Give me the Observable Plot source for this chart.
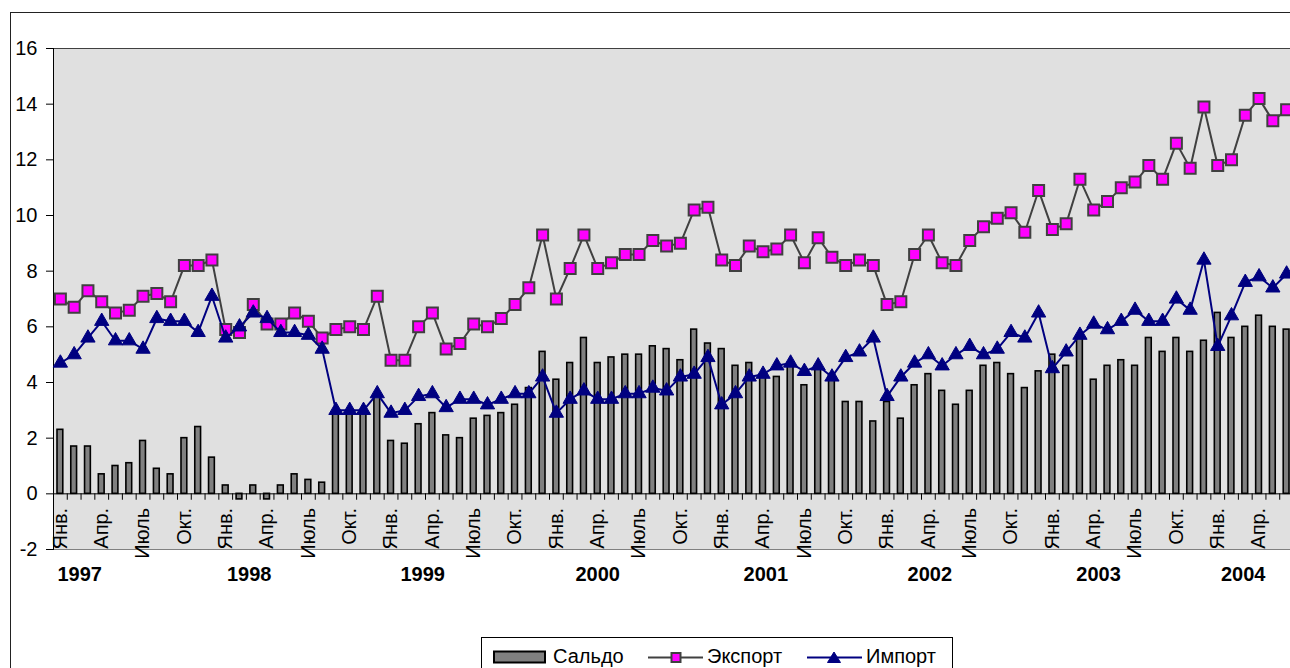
<!DOCTYPE html>
<html>
<head>
<meta charset="utf-8">
<script src="https://cdn.jsdelivr.net/npm/d3@7"></script>
<script src="https://cdn.jsdelivr.net/npm/@observablehq/plot@0.6"></script>
<style>
  html, body { margin: 0; padding: 0; background: #fff; overflow: hidden; }
  #page { position: relative; width: 1290px; height: 668px; overflow: hidden;
          font-family: "Liberation Sans", Arial, sans-serif; }
  #frame { position: absolute; left: 10px; top: 12px; width: 1400px; height: 800px;
           border: 1px solid #222; box-sizing: border-box; }
  #chart { position: absolute; left: 0; top: 0; }
  #legend { position: absolute; left: 481px; top: 637px; }
</style>
</head>
<body>
<div id="page">
  <div id="frame"></div>
  <div id="chart"></div>
  <div id="legend"></div>
</div>
<script>
// Monthly trade figures, January 1997 – June 2004
const years = [1997, 1998, 1999, 2000, 2001, 2002, 2003, 2004];
const quarterLabels = ["Янв.", "Апр.", "Июль", "Окт."];
const seriesNames = ["Сальдо", "Экспорт", "Импорт"];

const exportValues = [
  7.0, 6.7, 7.3, 6.9, 6.5, 6.6, 7.1, 7.2, 6.9, 8.2, 8.2, 8.4,
  5.9, 5.8, 6.8, 6.1, 6.1, 6.5, 6.2, 5.6, 5.9, 6.0, 5.9, 7.1,
  4.8, 4.8, 6.0, 6.5, 5.2, 5.4, 6.1, 6.0, 6.3, 6.8, 7.4, 9.3,
  7.0, 8.1, 9.3, 8.1, 8.3, 8.6, 8.6, 9.1, 8.9, 9.0, 10.2, 10.3,
  8.4, 8.2, 8.9, 8.7, 8.8, 9.3, 8.3, 9.2, 8.5, 8.2, 8.4, 8.2,
  6.8, 6.9, 8.6, 9.3, 8.3, 8.2, 9.1, 9.6, 9.9, 10.1, 9.4, 10.9,
  9.5, 9.7, 11.3, 10.2, 10.5, 11.0, 11.2, 11.8, 11.3, 12.6, 11.7, 13.9,
  11.8, 12.0, 13.6, 14.2, 13.4, 13.8
];

const importValues = [
  4.7, 5.0, 5.6, 6.2, 5.5, 5.5, 5.2, 6.3, 6.2, 6.2, 5.8, 7.1,
  5.6, 6.0, 6.5, 6.3, 5.8, 5.8, 5.7, 5.2, 3.0, 3.0, 3.0, 3.6,
  2.9, 3.0, 3.5, 3.6, 3.1, 3.4, 3.4, 3.2, 3.4, 3.6, 3.6, 4.2,
  2.9, 3.4, 3.7, 3.4, 3.4, 3.6, 3.6, 3.8, 3.7, 4.2, 4.3, 4.9,
  3.2, 3.6, 4.2, 4.3, 4.6, 4.7, 4.4, 4.6, 4.2, 4.9, 5.1, 5.6,
  3.5, 4.2, 4.7, 5.0, 4.6, 5.0, 5.3, 5.0, 5.2, 5.8, 5.6, 6.5,
  4.5, 5.1, 5.7, 6.1, 5.9, 6.2, 6.6, 6.2, 6.2, 7.0, 6.6, 8.4,
  5.3, 6.4, 7.6, 7.8, 7.4, 7.9
];

const saldoValues = [
  2.3, 1.7, 1.7, 0.7, 1.0, 1.1, 1.9, 0.9, 0.7, 2.0, 2.4, 1.3,
  0.3, -0.2, 0.3, -0.2, 0.3, 0.7, 0.5, 0.4, 2.9, 3.0, 2.9, 3.5,
  1.9, 1.8, 2.5, 2.9, 2.1, 2.0, 2.7, 2.8, 2.9, 3.2, 3.8, 5.1,
  4.1, 4.7, 5.6, 4.7, 4.9, 5.0, 5.0, 5.3, 5.2, 4.8, 5.9, 5.4,
  5.2, 4.6, 4.7, 4.2, 4.2, 4.7, 3.9, 4.6, 4.3, 3.3, 3.3, 2.6,
  3.3, 2.7, 3.9, 4.3, 3.7, 3.2, 3.7, 4.6, 4.7, 4.3, 3.8, 4.4,
  5.0, 4.6, 5.6, 4.1, 4.6, 4.8, 4.6, 5.6, 5.1, 5.6, 5.1, 5.5,
  6.5, 5.6, 6.0, 6.4, 6.0, 5.9
];

const yTicks = [-2, 0, 2, 4, 6, 8, 10, 12, 14, 16];

// ---- derived tables ----
const rows = exportValues.map((v, i) => ({
  i, m: i % 12, exp: v, imp: importValues[i], sal: saldoValues[i]
}));
const quarters = rows.filter(d => d.m % 3 === 0)
  .map(d => ({ i: d.i, label: quarterLabels[d.m / 3] }));
const boundaries = d3.range(rows.length + 1).map(k => k - 0.5);
// year captions sit a little after each January, in month units
const yearShift = [1.4, 1.7, 2.3, 3.0, 3.2, 3.1, 3.35, 1.85];

const FONT = "Liberation Sans, Arial, sans-serif";
const EXPORT_FILL = "#ff00ff", EXPORT_LINE = "#404040";
const IMPORT_COLOR = "#000080";
const SALDO_FILL = "#808080";

const chart = Plot.plot({
  width: 1290,
  height: 668,
  marginLeft: 53,
  marginRight: -3,
  marginTop: 48,
  marginBottom: 119,
  style: { background: "transparent", fontFamily: FONT, fontSize: "20px", color: "#000" },
  x: { domain: [-0.5, rows.length - 0.5], axis: null },
  y: { domain: [-2, 16], axis: null },
  marks: [
    // plot area: grey fill, dark top edge, black value axis on the left
    Plot.frame({ fill: "#e0e0e0", stroke: null }),
    Plot.frame({ anchor: "top", stroke: "#404040" }),
    Plot.frame({ anchor: "bottom", stroke: "#808080" }),
    Plot.frame({ anchor: "left", stroke: "#000" }),
    Plot.axisY({ ticks: yTicks, tickSize: 7, tickPadding: 9, label: null,
                 fontSize: 20, stroke: "#000", tickFormat: d => String(d) }),
    // balance bars
    Plot.rect(rows, { x1: d => d.i - 0.21, x2: d => d.i + 0.21, y1: 0, y2: "sal",
                      fill: SALDO_FILL, stroke: "#000", strokeWidth: 1.6 }),
    // category axis along zero with month ticks
    Plot.ruleY([0], { stroke: "#000", strokeWidth: 1 }),
    Plot.ruleX(boundaries, { x: d => d, y1: 0, y2: -0.23, stroke: "#000" }),
    Plot.text(quarters, { x: "i", y: 0, text: "label", rotate: -90, textAnchor: "end",
                          lineAnchor: "middle", dy: 14, fontSize: 20, fill: "#000" }),
    Plot.text(years, { x: (d, k) => 12 * k + yearShift[k], y: -2, text: d => String(d),
                       dy: 25, fontSize: 20, fontWeight: "bold", fill: "#000" }),
    // export and import series
    Plot.line(rows, { x: "i", y: "exp", stroke: EXPORT_LINE, strokeWidth: 2 }),
    Plot.dot(rows, { x: "i", y: "exp", symbol: "square", r: 6.2, fill: EXPORT_FILL,
                     stroke: EXPORT_LINE, strokeWidth: 2 }),
    Plot.line(rows, { x: "i", y: "imp", stroke: IMPORT_COLOR, strokeWidth: 2 }),
    Plot.dot(rows, { x: "i", y: "imp", symbol: "triangle", r: 5.3, fill: IMPORT_COLOR,
                     stroke: IMPORT_COLOR, strokeWidth: 1 })
  ]
});
document.getElementById("chart").appendChild(chart);

// ---- legend ----
const lg = d3.select("#legend").append("svg")
  .attr("width", 472).attr("height", 31)
  .style("display", "block")
  .style("font-family", FONT).style("font-size", "20px");
lg.append("rect").attr("x", 0.5).attr("y", 0.5).attr("width", 471).attr("height", 60)
  .attr("fill", "#fff").attr("stroke", "#000");

// Сальдо
lg.append("rect").attr("x", 13).attr("y", 14.5).attr("width", 51).attr("height", 11)
  .attr("fill", SALDO_FILL).attr("stroke", "#000").attr("stroke-width", 2);
lg.append("text").attr("x", 72).attr("y", 26).text(seriesNames[0]);

// Экспорт
lg.append("line").attr("x1", 167).attr("x2", 222).attr("y1", 20.5).attr("y2", 20.5)
  .attr("stroke", EXPORT_LINE).attr("stroke-width", 2);
lg.append("rect").attr("x", 190.5).attr("y", 16).attr("width", 9).attr("height", 9)
  .attr("fill", EXPORT_FILL).attr("stroke", EXPORT_LINE).attr("stroke-width", 2);
lg.append("text").attr("x", 226).attr("y", 26).text(seriesNames[1]);

// Импорт
lg.append("line").attr("x1", 326).attr("x2", 381).attr("y1", 20.5).attr("y2", 20.5)
  .attr("stroke", IMPORT_COLOR).attr("stroke-width", 2);
lg.append("path").attr("d", "M353,15 L359.5,25.5 L346.5,25.5 Z")
  .attr("fill", IMPORT_COLOR).attr("stroke", IMPORT_COLOR).attr("stroke-width", 1);
lg.append("text").attr("x", 385).attr("y", 26).text(seriesNames[2]);
</script>
</body>
</html>
